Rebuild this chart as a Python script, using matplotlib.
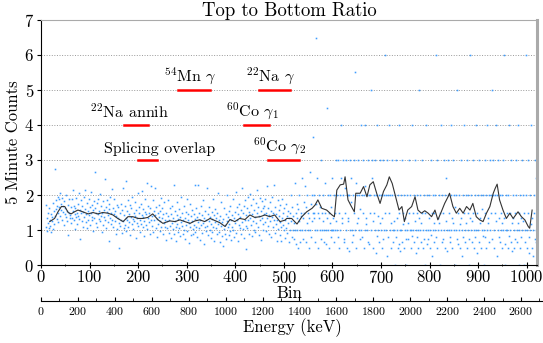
import matplotlib
matplotlib.use("Agg")
import matplotlib.pyplot as plt
from matplotlib.ticker import MultipleLocator
import numpy as np

plt.rcParams.update({
    "font.family": "serif",
    "font.serif": ["cmr10", "DejaVu Serif"],
    "mathtext.fontset": "cm",
    "axes.formatter.use_mathtext": True,
})

# ── Scatter: top/bottom ratio per bin (first bin = 10) ─────────────────────
FIRST_BIN = 10
ratio_a = [  # bins 10-109
    1.72, 1.10, 1.35, 0.98, 1.48, 1.20, 1.05, 1.62, 1.30, 1.12,
    1.45, 0.95, 1.38, 1.25, 1.78, 1.02, 1.55, 1.18, 1.40, 2.75,
    1.60, 1.85, 1.32, 1.70, 1.48, 1.95, 1.22, 1.66, 1.88, 1.40,
    2.05, 1.58, 1.75, 1.30, 1.92, 1.52, 1.68, 1.15, 1.82, 1.45,
    1.62, 1.38, 2.00, 1.55, 1.25, 1.72, 0.85, 1.50, 1.90, 1.35,
    1.42, 1.65, 1.20, 1.88, 1.35, 1.55, 2.15, 1.28, 1.70, 1.45,
    1.02, 1.62, 1.38, 1.92, 1.50, 1.18, 1.75, 1.40, 2.05, 1.32,
    1.58, 0.75, 1.48, 1.85, 1.25, 1.68, 1.10, 1.52, 1.95, 1.36,
    1.60, 2.15, 1.22, 1.45, 1.78, 1.05, 1.55, 1.30, 1.88, 1.42,
    1.15, 1.65, 1.48, 2.10, 1.28, 1.72, 1.38, 0.98, 1.58, 1.82,
]
ratio_b = [  # bins 110-209
    1.35, 1.62, 2.65, 1.20, 1.50, 1.78, 1.08, 1.45, 1.90, 1.32,
    1.55, 1.25, 2.02, 1.40, 1.68, 0.95, 1.48, 1.82, 1.15, 1.58,
    1.38, 2.45, 1.28, 1.65, 1.05, 1.52, 1.85, 1.22, 1.42, 1.75,
    0.70, 1.60, 1.35, 1.95, 1.18, 1.48, 2.18, 1.30, 1.62, 1.10,
    1.45, 1.88, 1.25, 1.55, 0.88, 1.40, 1.72, 1.02, 1.35, 1.65,
    1.20, 0.50, 1.48, 1.12, 1.75, 1.30, 0.92, 1.58, 1.25, 2.20,
    1.05, 1.42, 1.68, 1.15, 1.35, 2.40, 0.98, 1.55, 1.28, 1.85,
    1.10, 1.45, 1.22, 1.72, 0.85, 1.38, 1.62, 1.18, 1.95, 1.32,
    1.02, 1.50, 1.25, 1.80, 1.40, 0.78, 1.58, 1.20, 1.35, 2.05,
    1.12, 1.48, 1.65, 0.95, 1.30, 1.75, 1.18, 1.42, 2.12, 1.08,
]
ratio_c = [  # bins 210-309
    1.38, 1.60, 0.82, 1.25, 1.52, 1.90, 1.15, 1.45, 2.35, 1.02,
    1.35, 1.70, 1.22, 1.48, 0.90, 1.62, 1.30, 2.25, 1.12, 1.40,
    1.85, 0.95, 1.55, 1.28, 1.42, 2.20, 1.05, 1.65, 1.32, 0.80,
    1.48, 1.18, 1.72, 1.38, 0.98, 1.55, 1.25, 1.92, 1.08, 1.35,
    1.62, 0.88, 1.45, 1.20, 1.80, 1.10, 1.30, 0.72, 1.50, 1.25,
    1.05, 1.40, 1.85, 0.92, 1.28, 1.62, 1.12, 0.78, 1.45, 1.20,
    1.70, 1.02, 1.35, 2.30, 0.88, 1.25, 1.55, 1.10, 0.68, 1.42,
    1.18, 1.80, 0.95, 1.32, 1.60, 1.05, 1.38, 0.82, 1.22, 1.95,
    1.12, 1.48, 0.90, 1.28, 1.68, 1.00, 1.35, 0.75, 1.52, 1.15,
    1.88, 0.98, 1.30, 1.45, 0.62, 1.20, 1.75, 1.08, 1.40, 0.85,
]
ratio_d = [  # bins 310-409
    1.25, 1.58, 1.02, 0.88, 1.45, 1.15, 2.28, 1.32, 0.95, 1.62,
    1.10, 1.38, 0.80, 1.22, 2.30, 1.05, 1.48, 0.72, 1.30, 1.70,
    1.15, 0.92, 1.42, 1.20, 1.85, 0.60, 1.35, 1.08, 1.55, 0.98,
    1.28, 2.20, 1.12, 1.45, 0.85, 1.25, 1.65, 1.00, 1.38, 0.78,
    1.18, 1.52, 0.95, 1.32, 1.90, 1.10, 1.42, 0.70, 1.22, 1.60,
    1.05, 1.35, 0.88, 1.50, 1.18, 2.05, 0.95, 1.28, 0.65, 1.40,
    1.12, 1.80, 0.82, 1.22, 0.55, 1.32, 1.02, 1.62, 0.90, 1.15,
    1.45, 0.75, 1.25, 2.00, 1.08, 1.38, 0.85, 1.55, 1.18, 0.98,
    1.70, 1.28, 0.72, 1.42, 1.10, 1.88, 1.00, 1.35, 0.80, 1.52,
    1.20, 2.10, 0.92, 1.30, 1.65, 0.68, 1.45, 1.15, 1.75, 1.05,
]
ratio_e = [  # bins 410-509
    1.38, 0.88, 1.58, 1.22, 2.20, 1.02, 1.48, 0.78, 1.68, 1.30,
    1.85, 1.12, 0.45, 1.42, 1.62, 1.05, 1.95, 1.28, 0.90, 1.52,
    1.35, 2.02, 1.15, 1.72, 0.82, 1.45, 1.25, 1.88, 1.00, 1.58,
    1.38, 0.95, 1.78, 1.20, 1.48, 2.15, 1.10, 1.65, 0.85, 1.40,
    1.92, 1.28, 1.55, 0.72, 1.35, 1.82, 1.18, 1.62, 1.00, 1.45,
    1.70, 1.22, 1.90, 0.98, 1.48, 1.35, 2.25, 1.12, 1.62, 0.88,
    1.42, 1.80, 1.25, 1.55, 0.80, 1.38, 1.95, 1.08, 1.50, 2.30,
    1.30, 0.92, 1.65, 1.18, 1.45, 0.70, 1.28, 1.85, 1.02, 1.40,
    1.58, 0.85, 1.22, 1.72, 1.10, 0.68, 1.35, 1.90, 1.15, 1.48,
    1.00, 1.62, 0.78, 1.30, 1.75, 1.05, 1.40, 0.92, 1.55, 1.20,
]
ratio_f = [  # bins 510-609
    1.33, 0.67, 1.50, 1.00, 2.00, 1.25, 0.80, 1.67, 1.00, 1.40,
    0.75, 1.20, 2.33, 1.00, 1.50, 0.60, 1.33, 1.75, 1.00, 0.50,
    1.60, 1.25, 2.00, 1.00, 0.67, 1.50, 1.40, 2.50, 1.00, 1.33,
    0.75, 1.80, 1.50, 1.00, 2.25, 0.67, 1.67, 1.20, 2.00, 1.00,
    1.50, 0.50, 1.33, 2.67, 1.00, 1.75, 0.80, 2.00, 1.25, 1.50,
    3.66, 1.5, 1.33, 2, 0.67, 1, 6.49, 1.75, 1, 2.5,
    1.5, 0.5, 2, 1.33, 1, 1.67, 3, 0.75, 1.5, 1,
    2, 1.25, 0.67, 1, 2.33, 1.5, 1, 0.6, 4.49, 1.33,
    2, 1, 0.5, 1.5, 1.2, 2, 1, 0.8, 1.67, 1,
    2.5, 1.33, 1, 0.67, 2, 1.5, 1, 3, 1.25, 1,
]
ratio_g = [  # bins 610-709
    2, 0.8, 3, 1.5, 0.5, 2, 1, 4, 2.5, 1.2,
    1.33, 2, 3, 0.75, 0.67, 2.2, 1.5, 1, 3, 2,
    0.5, 1.25, 2, 1.33, 0.4, 2, 3, 1, 1.8, 2.5,
    1, 0.67, 2, 0.86, 3, 1.5, 5.51, 1, 2.33, 0.5,
    1.2, 2, 1.33, 3, 1, 2, 0.75, 1.6, 4, 1,
    2, 0.8, 3, 1.5, 2, 0.5, 1, 2.25, 4, 1.17,
    1.33, 2, 1, 3, 0.67, 2, 0.6, 1.5, 2, 5,
    1, 3, 2.5, 0.5, 1.25, 2, 1.5, 1, 3, 0.33,
    2, 0.83, 4, 1.4, 1, 2, 0.67, 3, 1.2, 2,
    1, 1.33, 2, 0.5, 0.75, 3, 2, 1, 6, 1.5,
]
ratio_h = [  # bins 710-809
    2, 1, 3, 0.25, 2, 0.8, 1.5, 4, 1, 2,
    0.5, 1.2, 3, 2, 1, 0.67, 1.25, 1, 2, 0,
    0.8, 3, 1.33, 1, 2, 0.5, 0.6, 4, 1.5, 1,
    0.4, 2, 1, 0.67, 3, 1.17, 1.5, 2, 0.5, 1,
    1.33, 0.75, 0, 2, 1, 0.75, 1.2, 3, 1.5, 1,
    2, 1, 0.5, 0.83, 4, 1.5, 1, 0.67, 2, 1.25,
    3, 1, 0.33, 1.5, 0.8, 2, 0.5, 1, 1.33, 5,
    1, 2, 0.67, 1.2, 1.5, 3, 1, 0.5, 2, 0.75,
    0, 1.5, 1, 4, 2, 0.6, 0.75, 1, 1.33, 2,
    1, 0.5, 3, 0.86, 1.5, 0.25, 1, 2, 0.67, 1.2,
]
ratio_i = [  # bins 810-909
    1.5, 1, 2, 6, 0.8, 0.5, 3, 1, 1.33, 2,
    1.2, 0, 1.5, 1, 4, 2, 0.67, 0.75, 1.5, 3,
    1, 0.5, 2, 1.25, 2.5, 1, 0.4, 3, 2, 1,
    1.5, 0.67, 0.8, 4, 2, 1, 1.33, 0.5, 1.2, 3,
    2, 1, 1.67, 0, 1, 2, 0.75, 5, 0.6, 1.5,
    1, 2, 0.5, 1.17, 3, 1.33, 1, 0.25, 2, 0.8,
    4, 1.5, 0.67, 1, 2, 1.2, 3, 0.5, 1.5, 1,
    2, 0, 0.75, 1.33, 6, 1, 2, 0.67, 1.25, 3,
    1.5, 1, 0.5, 2, 0.8, 4, 1, 0.33, 1.5, 2,
    1, 0.67, 3, 1.2, 1.33, 2, 0.5, 1, 1.6, 0.83,
]
ratio_j = [  # bins 910-1020
    2, 0, 1, 3, 1.5, 0.8, 0.5, 2, 1, 4,
    1.33, 1.2, 2, 0.67, 3, 1, 1.5, 2, 5, 0.75,
    2, 3, 1, 0.5, 2, 1.5, 4, 1.25, 2, 0.25,
    1, 3, 1.33, 0.8, 2, 0.67, 1, 1.5, 2, 1.2,
    0.5, 3, 1, 6, 1.33, 0.6, 0, 2, 1, 1.5,
    1, 0.5, 2, 0.83, 4, 1.5, 1, 0.67, 3, 1.2,
    0.4, 2, 1.33, 1, 0.5, 1.5, 0.75, 3, 2, 1,
    0.67, 1.2, 4, 1.5, 0, 1, 2, 0.5, 0.8, 1.33,
    3, 1, 2, 1.25, 0, 1.5, 0.67, 1, 2, 6,
    1, 0.5, 3, 1.5, 0.8, 0.33, 1, 2, 4, 1.17,
    1.33, 0.5, 1, 0.25, 2, 1.5, 0.75, 3, 0.67, 1, 2.5,
]

# ── Running average (black line) ───────────────────────────────────────────
avg_bin = [18, 28, 35, 42, 49, 56, 62, 69, 76, 86, 97, 107, 117, 127, 138,
           148, 158, 169, 179, 189, 200, 210, 220, 230, 241, 251, 255, 265,
           276, 286, 296, 307, 317, 327, 337, 348, 358, 368, 379, 389, 399,
           409, 420, 430, 440, 451, 461, 471, 481, 492, 502, 506, 516, 527,
           537, 547, 558, 564, 570, 578, 588, 599, 604, 609, 616, 623, 626,
           632, 639, 645, 648, 657, 664, 671, 677, 684, 691, 698, 705, 712,
           717, 723, 730, 737, 743, 748, 755, 763, 770, 776, 783, 790, 797,
           804, 811, 817, 824, 831, 838, 841, 848, 855, 862, 869, 876, 883,
           889, 896, 903, 910, 917, 924, 931, 935, 939, 944, 951, 958, 965,
           972, 982, 989, 996, 1003, 1006, 1011]
avg_val = [1.24, 1.33, 1.52, 1.67, 1.67, 1.50, 1.46, 1.52, 1.57, 1.52, 1.46,
           1.50, 1.46, 1.50, 1.48, 1.43, 1.33, 1.24, 1.38, 1.38, 1.33, 1.33,
           1.36, 1.46, 1.29, 1.19, 1.21, 1.26, 1.24, 1.29, 1.24, 1.19, 1.26,
           1.29, 1.24, 1.33, 1.27, 1.21, 1.10, 1.30, 1.24, 1.33, 1.30, 1.43,
           1.36, 1.38, 1.43, 1.38, 1.43, 1.24, 1.28, 1.33, 1.33, 1.17, 1.38,
           1.52, 1.62, 1.71, 1.86, 1.62, 1.57, 1.43, 1.38, 2.14, 2.29, 2.31,
           2.52, 1.86, 1.67, 1.52, 2.05, 2.05, 2.24, 1.95, 2.29, 2.38, 2.05,
           1.76, 2.10, 2.29, 2.52, 2.33, 1.95, 1.57, 1.67, 1.24, 1.57, 1.67,
           1.95, 1.57, 1.48, 1.55, 1.48, 1.38, 1.57, 1.29, 1.52, 1.76, 1.95,
           2.05, 1.67, 1.48, 1.62, 1.48, 1.67, 1.57, 1.76, 1.38, 1.29, 1.24,
           1.48, 1.67, 2.05, 2.19, 2.31, 1.86, 1.57, 1.33, 1.48, 1.33, 1.52,
           1.38, 1.29, 1.10, 1.05, 1.57]

# ── Source markers: (label, bin range, level) ──────────────────────────────
marker_labels = [r"$^{54}$Mn $\gamma$", r"$^{22}$Na $\gamma$",
                 r"$^{22}$Na annih", r"$^{60}$Co $\gamma_1$",
                 "Splicing overlap", r"$^{60}$Co $\gamma_2$"]
marker_lo = [282, 449, 171, 418, 200, 467]
marker_hi = [348, 512, 220, 469, 239, 531]
marker_level = [5, 5, 4, 4, 3, 3]
label_x = [307, 473, 183, 436, 245, 492]

BIN_MAX = 1021
KEV_MAX = 2719

# ── Figure ─────────────────────────────────────────────────────────────────
fig = plt.figure(figsize=(5.43, 3.43), dpi=100)
ax = fig.add_axes([0.0755, 0.2274, 0.9134, 0.7143])

ratios = (ratio_a + ratio_b + ratio_c + ratio_d + ratio_e +
          ratio_f + ratio_g + ratio_h + ratio_i + ratio_j)
bins = np.arange(FIRST_BIN, FIRST_BIN + len(ratios))
ax.plot(bins, ratios, linestyle="none", marker="s", markersize=1.15,
        markeredgewidth=0, color="#3d9dff", zorder=2)
ax.plot(avg_bin, avg_val, color="#333333", linewidth=0.8, zorder=3)

for lab, lo, hi, lev, tx in zip(marker_labels, marker_lo, marker_hi,
                                marker_level, label_x):
    ax.plot([lo, hi], [lev, lev], color="red", linewidth=1.8, zorder=4)
    ax.text(tx, lev + 0.12, lab, ha="center", va="bottom", fontsize=11.5)

ax.set_xlim(0, BIN_MAX)
ax.set_ylim(0, 7)
ax.xaxis.set_major_locator(MultipleLocator(100))
ax.xaxis.set_minor_locator(MultipleLocator(50))
ax.yaxis.set_major_locator(MultipleLocator(1))
ax.grid(True, axis="y", linestyle=":", color="#999999", linewidth=0.7, zorder=1)
ax.set_axisbelow(True)
ax.tick_params(axis="x", direction="inout", length=4, labelsize=12, pad=1)
ax.tick_params(axis="x", which="minor", direction="inout", length=2)
ax.tick_params(axis="y", direction="out", length=3, labelsize=12, pad=2)
ax.tick_params(top=False, right=False)
for side in ("top", "right"):
    ax.spines[side].set_color("#aaaaaa")
ax.spines["right"].set_linewidth(2.2)
ax.set_xlabel("Bin", fontsize=12, labelpad=0)
ax.set_ylabel("5 Minute Counts", fontsize=12, labelpad=2)
ax.set_title("Top to Bottom Ratio", fontsize=13.5, pad=2)

# energy axis below the bin axis
ax_e = fig.add_axes([0.0755, 0.122, 0.9245, 0.001])
ax_e.set_xlim(0, KEV_MAX)
ax_e.set_yticks([])
for side in ("top", "right", "left"):
    ax_e.spines[side].set_visible(False)
ax_e.patch.set_visible(False)
ax_e.xaxis.set_major_locator(MultipleLocator(200))
ax_e.xaxis.set_minor_locator(MultipleLocator(100))
ax_e.tick_params(axis="x", direction="in", length=3, labelsize=8.5, pad=3)
ax_e.tick_params(axis="x", which="minor", direction="in", length=2)
ax_e.set_xlabel("Energy (keV)", fontsize=12, labelpad=1)

fig.savefig("out.png", dpi=100)
